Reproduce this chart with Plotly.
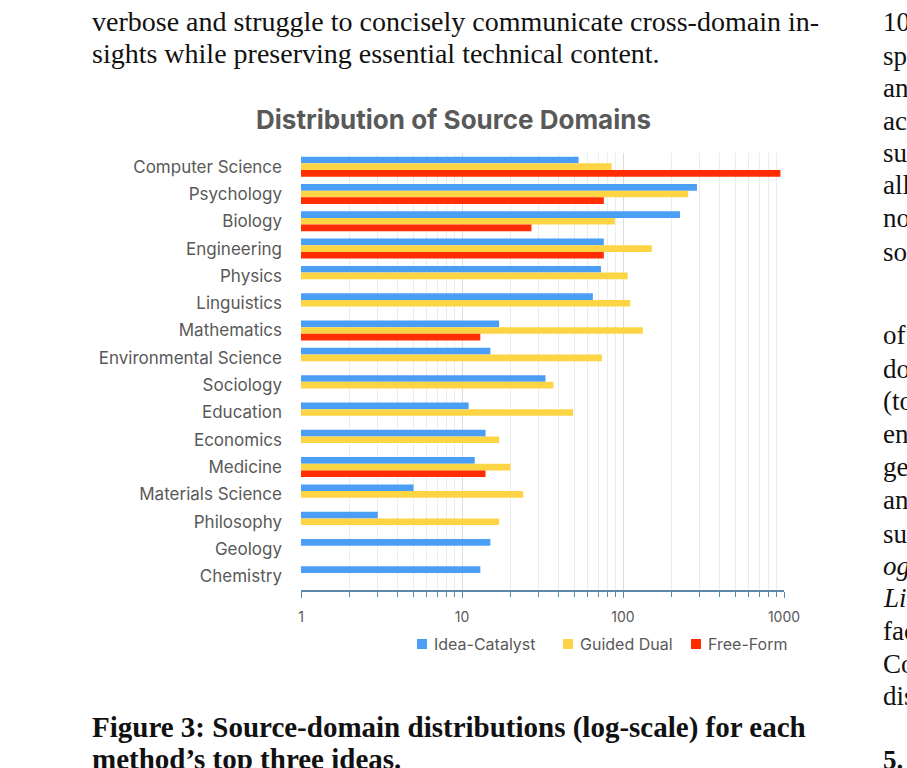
import plotly.graph_objects as go

categories = ["Computer Science", "Psychology", "Biology", "Engineering", "Physics",
              "Linguistics", "Mathematics", "Environmental Science", "Sociology",
              "Education", "Economics", "Medicine", "Materials Science", "Philosophy",
              "Geology", "Chemistry"]
idea_catalyst = [53, 288, 226, 76, 73, 65, 17, 15, 33, 11, 14, 12, 5, 3, 15, 13]
guided_dual = [85, 254, 89, 151, 107, 111, 133, 74, 37, 49, 17, 20, 24, 17, None, None]
free_form = [950, 76, 27, 76, None, None, 13, None, None, None, None, 14, None, None, None, None]
tick_vals = [1, 10, 100, 1000]
tick_text = ["1", "10", "100", "1000"]
minor_vals = [m * d for d in (1, 10, 100) for m in range(2, 10)]

W, H = 907, 768
L, R, T, B = 301, 784, 153, 590

def px(x):
    return (x - L) / (R - L)

def py(y):
    return (B - y) / (B - T)

fig = go.Figure()
series = [("Idea-Catalyst", idea_catalyst, "#4a9ef5"),
          ("Guided Dual", guided_dual, "#fdd444"),
          ("Free-Form", free_form, "#ff2d00")]
for name, vals, col in series:
    fig.add_trace(go.Bar(y=categories, x=vals, name=name, orientation="h",
                         marker=dict(color=col, line=dict(width=0)), showlegend=False))

fig.update_layout(
    width=W, height=H, autosize=False,
    margin=dict(l=L, r=W - R, t=T, b=H - B, pad=0),
    paper_bgcolor="white", plot_bgcolor="white",
    barmode="group", bargap=0.27, bargroupgap=0,
    font=dict(family="Inter, Roboto, sans-serif", color="#595959"),
    xaxis=dict(type="log", range=[0, 3], tickvals=tick_vals, ticktext=tick_text,
               showgrid=True, gridcolor="#dcdcdc", gridwidth=1,
               showline=True, linecolor="#5a88a8", linewidth=1.5,
               ticks="outside", ticklen=6, tickcolor="#5a88a8",
               ticklabelstandoff=7,
               tickfont=dict(size=14, color="#595959"),
               minor=dict(tickvals=minor_vals, showgrid=True, gridcolor="#ececec",
                          ticks="outside", ticklen=5, tickcolor="#5a88a8"),
               zeroline=False, fixedrange=True),
    yaxis=dict(categoryorder="array", categoryarray=categories, autorange="reversed",
               showgrid=False, showline=False, ticks="", ticklabelstandoff=18,
               tickfont=dict(size=17, color="#595959"), fixedrange=True),
)

ann = []
shapes = []
# custom legend
legend_pos = [422, 568, 696]
for (name, _, col), cx in zip(series, legend_pos):
    shapes.append(dict(type="rect", xref="paper", yref="paper",
                       x0=px(cx - 5), x1=px(cx + 5), y0=py(649), y1=py(639),
                       fillcolor=col, line=dict(width=0)))
    ann.append(dict(text=name, x=px(cx + 10), y=py(644), xanchor="left", yanchor="middle",
                    font=dict(size=16, color="#595959", family="Inter, Roboto, sans-serif")))

ann.append(dict(text="<b>Distribution of Source Domains</b>", x=px(453), y=py(120),
                xanchor="center", yanchor="middle",
                font=dict(size=26, color="#595959", family="Inter, Roboto, sans-serif")))

serif = "Liberation Serif, DejaVu Serif, serif"
body = [("verbose and struggle to concisely communicate cross-domain in-", 22),
        ("sights while preserving essential technical content.", 54)]
for t, y in body:
    ann.append(dict(text=t, x=px(90), y=py(y), xanchor="left", yanchor="middle",
                    font=dict(size=28, color="#111", family=serif)))

cap = [("<b>Figure 3: Source-domain distributions (log-scale) for each</b>", 727),
       ("<b>method’s top three ideas.</b>", 759)]
for t, y in cap:
    ann.append(dict(text=t, x=px(90), y=py(y), xanchor="left", yanchor="middle",
                    font=dict(size=29, color="#111", family=serif)))

right_col = [("10", 22), ("sp", 56), ("an", 88), ("ac", 121), ("su", 153), ("all", 185),
             ("no", 218), ("so", 252), ("of", 335), ("do", 369), ("(to", 401),
             ("en", 434), ("ge", 467), ("an", 500), ("su", 534), ("<i>og</i>", 566),
             ("<i>Li</i>", 598), ("fac", 631), ("Co", 664), ("dis", 696),
             ("<b>5.</b>", 760)]
for t, y in right_col:
    ann.append(dict(text=t, x=px(881), y=py(y), xanchor="left", yanchor="middle",
                    font=dict(size=27, color="#111", family=serif)))

for a in ann:
    a.update(xref="paper", yref="paper", showarrow=False)
fig.update_layout(annotations=ann, shapes=shapes)

fig.write_html("out.html")
